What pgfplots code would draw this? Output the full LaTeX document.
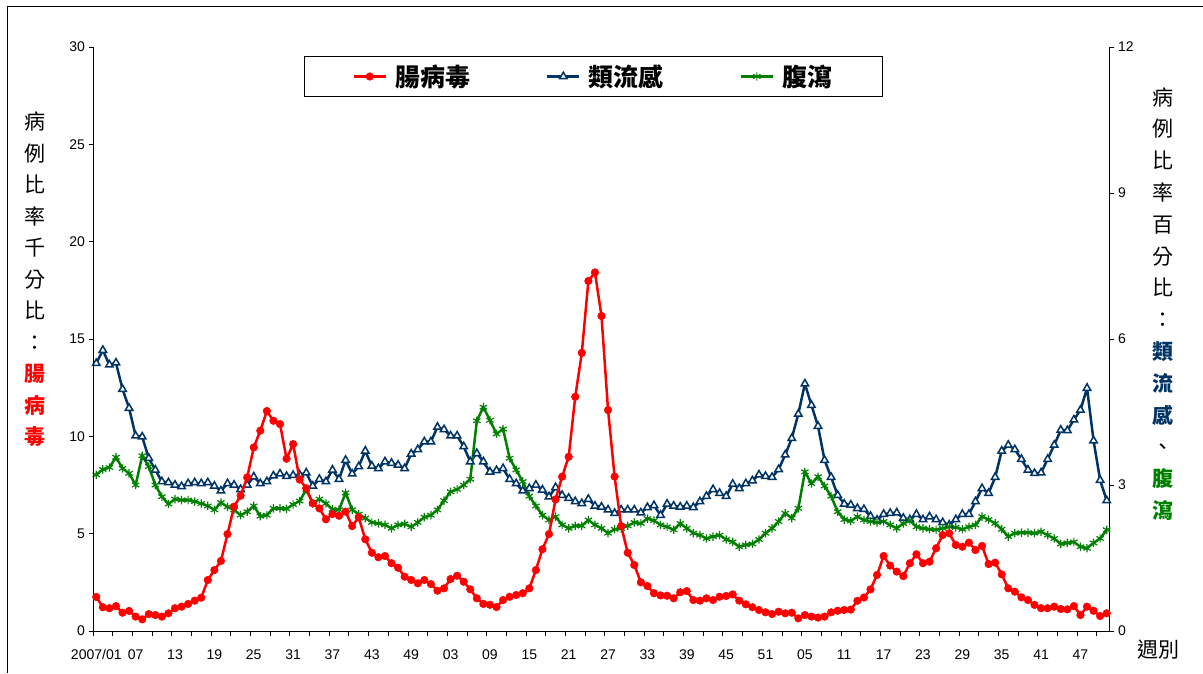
\documentclass[border=0pt]{standalone}
\usepackage{pgfplots}
\usepackage{pgfplotstable}
\pgfplotsset{compat=1.18}
\usepackage{fontspec}
\setmainfont{Liberation Sans}
\newfontfamily\cjk{Noto Sans CJK TC}
\definecolor{navy}{RGB}{0,51,102}
\definecolor{dgreen}{RGB}{0,128,0}
\pgfplotstableread{
i r b g
0 1.75 5.50 3.21
1 1.22 5.77 3.32
2 1.17 5.47 3.36
3 1.28 5.51 3.57
4 0.94 4.97 3.34
5 1.03 4.58 3.24
6 0.74 4.01 3.00
7 0.60 3.99 3.60
8 0.87 3.55 3.38
9 0.82 3.31 3.00
10 0.74 3.07 2.76
11 0.91 3.05 2.61
12 1.17 3.00 2.71
13 1.25 2.97 2.69
14 1.39 3.03 2.69
15 1.56 3.05 2.66
16 1.71 3.03 2.62
17 2.62 3.05 2.57
18 3.13 2.98 2.49
19 3.60 2.88 2.64
20 4.98 3.03 2.55
21 6.39 3.00 2.49
22 6.95 2.91 2.38
23 7.89 3.00 2.45
24 9.43 3.17 2.57
25 10.29 3.03 2.36
26 11.30 3.07 2.38
27 10.80 3.19 2.52
28 10.63 3.23 2.52
29 8.85 3.18 2.51
30 9.60 3.20 2.60
31 7.78 3.21 2.67
32 7.33 3.25 2.91
33 6.56 2.98 2.62
34 6.30 3.12 2.71
35 5.74 3.07 2.62
36 6.01 3.31 2.50
37 5.92 3.12 2.49
38 6.13 3.51 2.84
39 5.39 3.23 2.49
40 5.84 3.38 2.40
41 4.71 3.70 2.32
42 4.02 3.39 2.23
43 3.79 3.34 2.21
44 3.85 3.48 2.18
45 3.48 3.45 2.11
46 3.25 3.41 2.18
47 2.79 3.34 2.20
48 2.62 3.64 2.14
49 2.45 3.73 2.23
50 2.62 3.89 2.34
51 2.41 3.89 2.38
52 2.07 4.19 2.49
53 2.19 4.14 2.68
54 2.67 4.01 2.86
55 2.84 4.01 2.91
56 2.53 3.79 3.00
57 2.14 3.48 3.12
58 1.68 3.65 4.32
59 1.39 3.48 4.60
60 1.35 3.27 4.33
61 1.23 3.30 4.05
62 1.59 3.34 4.15
63 1.76 3.12 3.55
64 1.85 3.03 3.31
65 1.94 2.88 3.07
66 2.19 2.93 2.77
67 3.13 3.00 2.57
68 4.20 2.90 2.38
69 4.98 2.76 2.28
70 6.76 2.95 2.35
71 7.93 2.79 2.18
72 8.95 2.73 2.11
73 12.03 2.66 2.16
74 14.29 2.62 2.16
75 17.98 2.71 2.28
76 18.42 2.57 2.18
77 16.18 2.55 2.11
78 11.35 2.49 2.01
79 7.93 2.42 2.09
80 5.39 2.49 2.11
81 4.02 2.49 2.16
82 3.39 2.49 2.23
83 2.50 2.43 2.21
84 2.31 2.54 2.31
85 1.94 2.58 2.27
86 1.83 2.38 2.18
87 1.81 2.61 2.14
88 1.68 2.57 2.08
89 1.99 2.55 2.21
90 2.05 2.57 2.11
91 1.59 2.54 2.01
92 1.56 2.66 1.97
93 1.68 2.77 1.90
94 1.59 2.91 1.94
95 1.76 2.83 1.97
96 1.80 2.77 1.88
97 1.88 3.02 1.83
98 1.56 2.93 1.73
99 1.37 3.03 1.77
100 1.22 3.09 1.79
101 1.08 3.21 1.88
102 0.96 3.18 2.01
103 0.87 3.16 2.11
104 0.99 3.32 2.25
105 0.91 3.62 2.42
106 0.94 3.96 2.32
107 0.65 4.46 2.52
108 0.82 5.08 3.27
109 0.74 4.64 3.03
110 0.69 4.21 3.17
111 0.74 3.51 2.98
112 0.96 3.16 2.77
113 1.04 2.79 2.45
114 1.08 2.61 2.29
115 1.10 2.59 2.26
116 1.55 2.52 2.35
117 1.72 2.50 2.28
118 2.14 2.36 2.25
119 2.88 2.28 2.23
120 3.85 2.40 2.25
121 3.36 2.42 2.18
122 3.05 2.43 2.11
123 2.82 2.32 2.21
124 3.48 2.29 2.27
125 3.94 2.40 2.14
126 3.48 2.29 2.11
127 3.56 2.35 2.09
128 4.25 2.29 2.08
129 4.93 2.23 2.11
130 5.02 2.18 2.14
131 4.42 2.29 2.13
132 4.33 2.40 2.09
133 4.54 2.40 2.14
134 4.16 2.66 2.18
135 4.37 2.93 2.35
136 3.44 2.83 2.29
137 3.51 3.16 2.21
138 2.91 3.70 2.09
139 2.19 3.82 1.94
140 2.02 3.73 2.01
141 1.73 3.53 2.02
142 1.59 3.31 2.02
143 1.34 3.24 2.01
144 1.17 3.25 2.04
145 1.17 3.53 1.97
146 1.25 3.82 1.90
147 1.13 4.13 1.79
148 1.11 4.12 1.81
149 1.28 4.34 1.83
150 0.82 4.54 1.73
151 1.25 4.99 1.70
152 1.04 3.91 1.81
153 0.77 3.10 1.90
154 0.91 2.68 2.08
}\data
\pgfplotsset{
  base/.style={at={(93pt,42pt)}, anchor=south west, scale only axis,
    width=1017pt, height=584pt, xmin=-0.5, xmax=154.5,
    axis line style={-, line width=1pt, black},
    tick style={black, line width=0.8pt}, major tick length=4.5pt, minor tick length=4.5pt,
    tick align=outside,
    tick label style={font=\fontsize{14}{16}\selectfont},
    /pgf/number format/assume math mode=true},
  redst/.style={red, line width=2.5pt, mark=*, mark size=3.8pt, mark options={solid, fill=red, line width=0.5pt}},
  bluest/.style={navy, line width=2.5pt, mark=triangle*, mark size=4.3pt, mark options={solid, fill=white, draw=navy, line width=1.5pt}},
  greenst/.style={dgreen, line width=2.5pt, mark=asterisk, mark size=4.2pt, mark options={solid, line width=1.2pt}},
}
\begin{document}
\begin{tikzpicture}
\useasboundingbox (0pt,0pt) rectangle (1203pt,673pt);
\draw[line width=1pt] (7pt,0pt) -- (7pt,666pt) -- (1203pt,666pt);
\begin{axis}[base, ymin=0, ymax=12, ytick={0,3,...,12},
  axis x line=none, axis y line*=right]
\addplot[bluest] table[x=i,y=b]{\data};
\addplot[greenst] table[x=i,y=g]{\data};
\end{axis}
\begin{axis}[base, ymin=0, ymax=30, ytick={0,5,...,30},
  axis x line*=bottom, axis y line*=left,
  xtick={0,6,...,150},
  xticklabels={2007/01,07,13,19,25,31,37,43,49,03,09,15,21,27,33,39,45,51,05,11,17,23,29,35,41,47},
  xticklabel style={yshift=-10.5pt},
  minor xtick={-0.5,2.5,...,152.5},
  major x tick style={draw=none},
  legend columns=3,
  legend image code/.code={\draw[mark repeat=2,mark phase=2,#1] plot coordinates {(0pt,0pt) (16pt,0pt) (32pt,0pt)};},
  legend style={at={(0.492,0.9495)}, anchor=center, draw=black, line width=0.8pt,
    font=\cjk\bfseries\fontsize{25}{25}\selectfont,
    inner xsep=48pt, inner ysep=6.5pt,
    /tikz/every odd column/.append style={column sep=6pt},
    /tikz/every even column/.append style={column sep=74pt}},
  ]
\addplot[redst] table[x=i,y=r]{\data};
\addlegendentry{腸病毒}
\addlegendimage{bluest}
\addlegendentry{類流感}
\addlegendimage{greenst}
\addlegendentry{腹瀉}
\end{axis}
\node[align=center, font=\cjk\fontsize{21}{31.5}\selectfont] at (35pt,393.5pt)
  {病\\例\\比\\率\\千\\分\\比\\：\\\textcolor{red}{\bfseries 腸}\\\textcolor{red}{\bfseries 病}\\\textcolor{red}{\bfseries 毒}};
\node[align=center, font=\cjk\fontsize{21}{31.8}\selectfont] at (1163pt,369pt)
  {病\\例\\比\\率\\百\\分\\比\\：\\\textcolor{navy}{\bfseries 類}\\\textcolor{navy}{\bfseries 流}\\\textcolor{navy}{\bfseries 感}\\、\\\textcolor{dgreen}{\bfseries 腹}\\\textcolor{dgreen}{\bfseries 瀉}};
\node[font=\cjk\fontsize{21}{21}\selectfont] at (1158pt,23pt) {週別};
\end{tikzpicture}
\end{document}
